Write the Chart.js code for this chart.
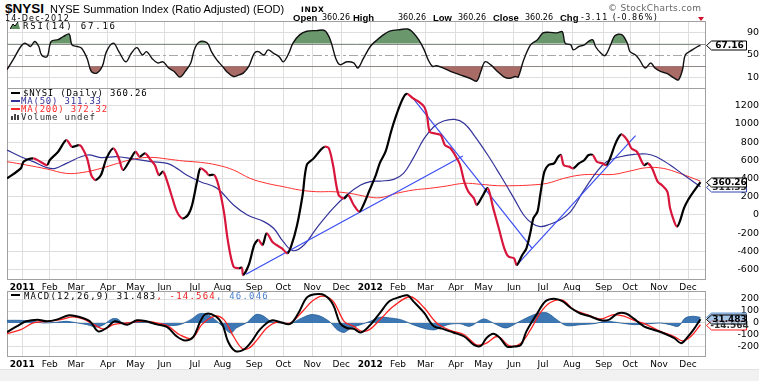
<!DOCTYPE html>
<html><head><meta charset="utf-8">
<script src="https://cdn.jsdelivr.net/npm/chart.js@4.4.1/dist/chart.umd.min.js"></script>
<style>
html,body{margin:0;padding:0;background:#fff;}
#wrap{position:relative;width:759px;height:381px;overflow:hidden;background:#fff;}
canvas{position:absolute;left:0;}
.t{position:absolute;white-space:nowrap;line-height:1;z-index:5;}
.lg{position:absolute;white-space:nowrap;font-family:"DejaVu Sans Mono",monospace;font-size:9px;line-height:8px;letter-spacing:0.8px;z-index:5;left:23px;}
.mk{position:absolute;left:11px;width:9px;height:2px;z-index:5;}
.lab{font-family:"Liberation Sans",Arial,sans-serif;font-weight:bold;font-size:9.5px;}
.val{font-family:"DejaVu Sans",sans-serif;font-size:8px;}
</style></head>
<body><div id="wrap">
<div style="position:absolute;left:0;top:369px;width:759px;height:12px;background:#f1f1f1;border-top:1px solid #e2e2e2;"></div>
<canvas id="cRsi" width="759" height="68" style="top:21px"></canvas>
<canvas id="cMain" width="759" height="205" style="top:88px"></canvas>
<canvas id="cMacd" width="759" height="79" style="top:291px"></canvas>

<div class="t" style="left:5px;top:1px;font:bold 13.5px 'Liberation Sans',Arial;">$NYSI</div>
<div class="t" style="left:50px;top:3px;font:11px 'Liberation Sans',Arial;">NYSE Summation Index (Ratio Adjusted) (EOD)</div>
<div class="t" style="left:301px;top:5px;font:bold 7.5px 'DejaVu Sans';letter-spacing:0.6px;">INDX</div>
<div class="t" style="left:5px;top:13.5px;font:8px 'DejaVu Sans';letter-spacing:1.2px;">14-Dec-2012</div>
<div class="t" style="left:608px;top:3px;font:9px 'DejaVu Sans';color:#666;letter-spacing:0.3px;">© StockCharts.com</div>
<div class="t lab" style="left:293px;top:13px;">Open</div>
<div class="t val" style="left:322px;top:14px;">360.26</div>
<div class="t lab" style="left:353px;top:13px;">High</div>
<div class="t val" style="left:398px;top:14px;">360.26</div>
<div class="t lab" style="left:433px;top:13px;">Low</div>
<div class="t val" style="left:458px;top:14px;">360.26</div>
<div class="t lab" style="left:493px;top:13px;">Close</div>
<div class="t val" style="left:525px;top:14px;">360.26</div>
<div class="t lab" style="left:560px;top:13px;">Chg</div>
<div class="t val" style="left:581px;top:14px;letter-spacing:1.4px;">-3.11 (-0.86%)</div>
<div style="position:absolute;left:698px;top:17px;width:0;height:0;border-left:3px solid transparent;border-right:3px solid transparent;border-top:4px solid #d0102a;z-index:5;"></div>

<svg style="position:absolute;left:10px;top:22px;z-index:5" width="10" height="8"><polygon points="0,7 3,2 5,4 8,0 10,7" fill="#5f8f5f"/><polyline points="0,7 3,2 5,4 8,0" fill="none" stroke="#000" stroke-width="1"/></svg>
<div class="lg" style="top:22px;letter-spacing:1.8px;">RSI(14) 67.16</div>

<div class="mk" style="top:92px;background:#000;"></div>
<div class="lg" style="top:89px;">$NYSI (Daily) 360.26</div>
<div class="mk" style="top:100px;background:#333399;"></div>
<div class="lg" style="top:97px;left:21px;color:#333399;">MA(50) 311.33</div>
<div class="mk" style="top:108px;background:#ff2a2a;"></div>
<div class="lg" style="top:105px;left:21px;color:#ff2a2a;">MA(200) 372.32</div>
<svg style="position:absolute;left:11px;top:113px;z-index:5" width="9" height="7"><rect x="0" y="3" width="2" height="4" fill="#444"/><rect x="3" y="1" width="2" height="6" fill="#444"/><rect x="6" y="2" width="2" height="5" fill="#444"/></svg>
<div class="lg" style="top:113px;left:21px;color:#333;">Volume undef</div>

<div class="mk" style="top:294px;background:#000;"></div>
<div class="lg" style="top:292px;left:24px;letter-spacing:1.2px;">MACD(12,26,9) 31.483<span style="color:#ee1c1c">, -14.564</span><span style="color:#4a7fd0">, 46.046</span></div>
</div>
<script>
// ---- time axis (trading-day index, 0 = 3-Jan-2011) ----
const monthStarts=[0,20,39,62,82,103,125,145,168,189,210,231,252,272,292,314,334,356,377,398,421,440,461,482];
const monthLabels=['2011','Feb','Mar','Apr','May','Jun','Jul','Aug','Sep','Oct','Nov','Dec','2012','Feb','Mar','Apr','May','Jun','Jul','Aug','Sep','Oct','Nov','Dec'];

// ---- $NYSI close ----
const nysiDay=[-11,-1,1,8,13,18,20,26,32,36,41,43,47,50,53,57,61,66,70,73,78,82,85,89,93,96,99,102,105,108,112,116,120,123,127,129,133,135,139,142,146,149,153,157,159,160,164,168,171,174,177,181,184,188,192,195,199,203,206,211,216,219,222,225,229,233,236,240,244,247,251,256,259,263,267,270,274,277,279,283,287,291,293,295,299,303,306,310,314,317,320,323,327,329,333,337,341,345,349,352,356,358,362,365,368,370,373,375,378,381,385,388,390,392,396,399,403,407,410,413,416,420,423,426,429,432,434,438,441,445,450,453,456,460,463,467,469,472,474,476,479,482,486,491];
const nysiVal=[402,512,586,622,586,549,604,695,823,750,768,750,622,439,384,439,622,732,622,494,604,695,640,677,604,549,439,476,366,220,37,-37,0,110,402,512,476,439,439,329,37,-293,-567,-585,-578,-659,-549,-329,-274,-329,-201,-293,-329,-366,-421,-329,-110,220,549,622,714,750,732,549,220,183,220,110,37,110,256,439,575,695,915,1061,1226,1317,1328,1281,1244,1189,1098,915,896,878,768,732,640,549,366,256,183,110,201,293,73,-146,-366,-457,-476,-549,-439,-366,-183,-37,37,220,476,549,567,640,659,549,531,512,567,604,659,659,585,567,549,640,768,860,885,823,732,695,549,567,512,366,329,256,73,-73,-128,-73,73,165,256,360.26];

// ---- MA(50) ----
const ma50Day=[-11,-1,8,18,24,32,47,57,69,81,93,105,112,119,129,141,153,163,175,182,189,196,204,213,225,235,245,252,259,269,276,283,291,298,305,313,320,327,337,346,356,363,369,375,382,389,397,406,416,423,433,443,452,459,469,479,491];
const ma50Val=[714,640,586,520,512,567,659,630,640,615,586,567,512,439,366,293,110,0,-73,-146,-293,-392,-329,-146,73,220,329,366,373,392,457,622,841,970,1032,1050,1006,878,659,439,183,0,-91,-128,-102,-55,37,256,476,586,640,666,670,640,549,439,311.33];

// ---- MA(200) ----
const ma200Day=[-11,3,18,32,44,57,69,81,93,105,117,129,141,153,165,177,189,201,213,225,237,250,259,271,283,295,307,320,332,344,356,368,380,392,404,416,428,440,452,464,476,491];
const ma200Val=[586,549,505,457,468,512,567,615,633,615,593,578,549,494,402,348,311,274,256,256,238,201,190,238,274,293,318,348,337,322,322,329,348,402,439,446,446,483,520,512,457,372.32];

// ---- trendlines (start/end day, start/end value) ----
const trendDays=[[162,319],[283,369],[358,444]];
const trendVals=[[-650,648],[1282,-364],[-550,871]];

// ---- RSI(14) ----
const rsiDay=[-11,-6,-1,2,6,9,12,14,18,21,26,30,34,36,40,43,47,50,54,58,61,66,70,75,79,83,87,90,94,98,102,106,110,114,118,122,125,129,134,137,141,145,148,153,157,160,164,168,171,175,178,182,186,189,193,196,201,206,213,219,223,227,230,235,240,243,247,252,257,260,266,274,279,282,287,291,294,297,300,305,310,317,324,329,332,335,339,344,349,353,357,359,363,368,373,377,382,387,391,393,397,399,403,407,410,413,415,419,422,426,429,434,438,440,444,447,451,455,458,462,467,472,475,478,480,485,489,491];
const rsiVal=[24,44,65,71,65,74,65,50,47,74,77,83,87,68,65,62,44,21,18,30,56,71,56,38,53,63,50,56,44,36,38,27,21,11,21,36,62,74,71,56,41,30,21,12,15,18,30,53,56,50,59,53,47,38,53,71,86,92,93,93,77,44,33,38,36,27,44,65,77,83,92,95,96,92,77,59,41,30,31,27,21,15,9,4,21,38,33,21,11,9,12,11,41,68,77,89,90,89,91,71,68,59,65,68,74,77,65,53,49,68,84,86,71,56,50,41,27,36,27,21,17,9,6,24,50,59,65,67.16];
const rsiTicks=[10,30,50,70,90];
const rsiBands=[30,70];
const rsiMid=50;

// ---- MACD(12,26,9) ----
const macdDay=[-11,-4,3,11,18,25,34,42,49,55,61,67,76,83,90,98,105,112,118,124,129,133,140,145,149,154,160,166,172,180,187,194,200,206,212,219,225,230,235,240,245,251,257,259,266,274,279,283,291,298,305,312,320,327,332,336,341,346,351,356,361,365,373,379,385,391,397,404,411,419,425,431,437,443,450,457,464,472,477,481,486,491];
const macdVal=[-76,-28,14,28,14,28,65,48,14,-70,-42,14,-14,22,14,-14,-34,-113,-146,-113,14,76,56,-14,-155,-233,-225,-155,-56,20,6,-8,84,211,239,231,155,0,-42,-48,-79,-28,56,84,183,219,231,183,84,-28,-51,-79,-113,-183,-191,-127,-90,-127,-197,-197,-183,-70,84,183,203,183,127,79,56,22,28,79,79,34,-28,-56,-84,-127,-169,-127,-56,31.483];
const sigDay=[-11,-1,8,18,28,36,44,52,59,66,76,85,95,105,114,123,130,139,146,153,159,164,170,177,184,194,203,210,217,225,233,240,246,252,259,269,281,291,300,310,320,329,336,344,353,361,368,375,382,391,399,409,419,428,436,443,452,462,472,478,484,491];
const sigVal=[-90,-56,0,14,28,51,34,-14,-51,-14,0,14,6,-22,-98,-127,-14,56,28,-113,-211,-211,-141,-42,6,0,98,183,225,183,14,-28,-70,-51,28,141,219,127,0,-62,-98,-183,-169,-113,-191,-169,-56,84,169,191,113,70,34,70,56,22,-14,-70,-113,-149,-113,-14.564];
const histDay=[-11,-1,8,15,25,32,40,47,54,59,65,69,73,81,90,98,107,114,122,128,133,139,145,151,155,163,169,174,180,187,194,200,209,216,223,228,233,238,245,252,259,266,274,283,293,299,308,317,324,334,341,350,358,365,373,380,387,394,404,414,423,433,443,452,462,469,475,480,486,491];
const histVal=[22,22,14,0,6,14,0,-14,-34,-14,34,34,0,8,6,-14,-22,-14,28,76,76,34,-28,-84,-42,6,70,62,14,0,-6,28,70,56,6,-56,-79,-42,-14,14,48,42,28,-14,-51,-56,-14,-6,-28,34,0,-42,0,42,79,84,28,-22,-14,-6,14,0,-14,-8,0,-14,-28,42,56,46.046];
const macdTicks=[-200,-100,0,100,200];
const mainTicks=[-600,-400,-200,0,200,400,600,800,1000,1200];

// ---------------------------------------------------------
const pts=(d,v)=>d.map((x,i)=>({x:x,y:v[i]}));
const last=a=>a[a.length-1];
Chart.defaults.font.family='DejaVu Sans';
Chart.defaults.color='#000';
const GRID='#dedede';

function xScale(show){
  return {type:'linear',min:-11,max:495,
    afterBuildTicks:s=>{s.ticks=monthStarts.map(v=>({value:v}));},
    afterFit:s=>{s.height=show?13:0;s.paddingLeft=0;s.paddingRight=0;},
    grid:{color:GRID,drawTicks:false},border:{display:false},
    ticks:{display:show,autoSkip:false,maxRotation:0,minRotation:0,padding:2,color:'#000',
      callback:(v,i)=>monthLabels[i],
      font:c=>({family:'DejaVu Sans',size:9,weight:/^20/.test(monthLabels[c.index])?'bold':'normal'})}};
}
function yScale(min,max,ticks,pad,gridColor){
  return {position:'right',min:min,max:max,
    afterBuildTicks:s=>{s.ticks=ticks.map(v=>({value:v}));},
    afterFit:s=>{s.width=53;s.paddingTop=0;s.paddingBottom=0;},
    grid:{color:gridColor||GRID,drawTicks:false},border:{display:false},
    ticks:{crossAlign:'far',padding:pad,color:'#000',font:{family:'DejaVu Sans',size:9.5},callback:v=>String(v)}};
}
const frame={id:'frame',beforeDatasetsDraw(c){const a=c.chartArea,x=c.ctx;x.save();x.strokeStyle='#a0a0a0';x.lineWidth=1;
  x.strokeRect(Math.round(a.left)+0.5,Math.round(a.top)+0.5,Math.round(a.right-a.left)-1,Math.round(a.bottom-a.top)-1);x.restore();}};
function tags(list){return {id:'tags',afterDraw(c){const ctx=c.ctx,y=c.scales.y;
  list.forEach(t=>{const py=Math.round(y.getPixelForValue(t.value))+0.5,x0=706.5,x1=711.5,x2=746.5,h=9;
    ctx.save();ctx.beginPath();ctx.moveTo(x0,py);ctx.lineTo(x1,py-h/2);ctx.lineTo(x2,py-h/2);ctx.lineTo(x2,py+h/2);ctx.lineTo(x1,py+h/2);ctx.closePath();
    ctx.fillStyle=t.fill;ctx.fill();ctx.lineWidth=1;ctx.strokeStyle=t.stroke;ctx.stroke();
    if(t.text){ctx.fillStyle=t.color;ctx.font='bold 9px "DejaVu Sans"';ctx.textAlign='center';ctx.textBaseline='middle';ctx.fillText(t.text,(x1+x2)/2+0.5,py+0.5);}
    ctx.restore();});}};}
const base={responsive:false,animation:false,devicePixelRatio:1,events:[],
  layout:{padding:{left:7,right:0,top:0,bottom:0}},
  plugins:{legend:{display:false},tooltip:{enabled:false}},
  elements:{point:{radius:0}}};

// ---- RSI chart ----
const rsiLevels={id:'lv',beforeDatasetsDraw(c){const y=c.scales.y,a=c.chartArea,x=c.ctx;x.save();
  rsiBands.forEach(v=>{const p=Math.round(y.getPixelForValue(v))+0.5;x.strokeStyle='#8a8a8a';x.lineWidth=1;x.setLineDash([]);x.beginPath();x.moveTo(a.left,p);x.lineTo(a.right,p);x.stroke();});
  const p=Math.round(y.getPixelForValue(rsiMid))+0.5;x.strokeStyle='#a8a8a8';x.setLineDash([9,3,3,3]);x.beginPath();x.moveTo(a.left,p);x.lineTo(a.right,p);x.stroke();x.restore();}};
new Chart(document.getElementById('cRsi'),{type:'line',
  data:{datasets:[
    {data:pts(rsiDay,rsiVal),borderColor:'#111',borderWidth:1.4,tension:0.35,fill:{target:{value:70},above:'#6a986c',below:'rgba(0,0,0,0)'}},
    {data:pts(rsiDay,rsiVal),borderWidth:0,borderColor:'rgba(0,0,0,0)',tension:0.35,fill:{target:{value:30},above:'rgba(0,0,0,0)',below:'#a86b66'}}]},
  options:Object.assign({},base,{scales:{x:xScale(false),y:yScale(-10,110,rsiTicks,4,c=>(c.tick&&(c.tick.value===50||c.tick.value===30||c.tick.value===70))?'rgba(0,0,0,0)':GRID)}}),
  plugins:[frame,rsiLevels,tags([{value:last(rsiVal),text:last(rsiVal).toFixed(2),fill:'#fff',stroke:'#000',color:'#000'}])]});

// ---- Main chart ----
const trendSets=trendDays.map((d,i)=>({data:pts(d,trendVals[i]),borderColor:'#3a4ef2',borderWidth:1.2,tension:0}));
new Chart(document.getElementById('cMain'),{type:'line',
  data:{datasets:[
    {data:pts(nysiDay,nysiVal),borderWidth:2.2,tension:0.3,borderColor:'#000',
      segment:{borderColor:c=>c.p1.parsed.y>=c.p0.parsed.y?'#000':'#d8163c'}},
    ...trendSets,
    {data:pts(ma50Day,ma50Val),borderColor:'#333399',borderWidth:1.2,tension:0.4},
    {data:pts(ma200Day,ma200Val),borderColor:'#ff3030',borderWidth:1,tension:0.4}]},
  options:Object.assign({},base,{scales:{x:xScale(true),y:yScale(-714,1395,mainTicks,5)}}),
  plugins:[frame,tags([
    {value:last(ma50Val),text:last(ma50Val).toFixed(2),fill:'#fff',stroke:'#3344aa',color:'#333'},
    {value:last(nysiVal),text:last(nysiVal).toFixed(2),fill:'#fff',stroke:'#000',color:'#000'}])]});

// ---- MACD chart ----
new Chart(document.getElementById('cMacd'),{type:'line',
  data:{datasets:[
    {data:pts(macdDay,macdVal),borderColor:'#000',borderWidth:2,tension:0.35},
    {data:pts(sigDay,sigVal),borderColor:'#ff2020',borderWidth:1.3,tension:0.35},
    {data:pts(histDay,histVal),borderColor:'#1f5a96',borderWidth:0.8,backgroundColor:'rgba(45,108,175,0.92)',tension:0.3,fill:'origin'}]},
  options:Object.assign({},base,{scales:{x:xScale(true),y:yScale(-284,267,macdTicks,0)}}),
  plugins:[frame,tags([
    {value:last(histVal),text:'',fill:'#a9c6e8',stroke:'#6a98cf',color:'#000'},
    {value:last(sigVal),text:last(sigVal).toFixed(3),fill:'#fff',stroke:'#ff2020',color:'#333'},
    {value:last(macdVal),text:last(macdVal).toFixed(3),fill:'rgba(169,198,232,0.6)',stroke:'#000',color:'#000'}])]});
</script>
</body></html>
